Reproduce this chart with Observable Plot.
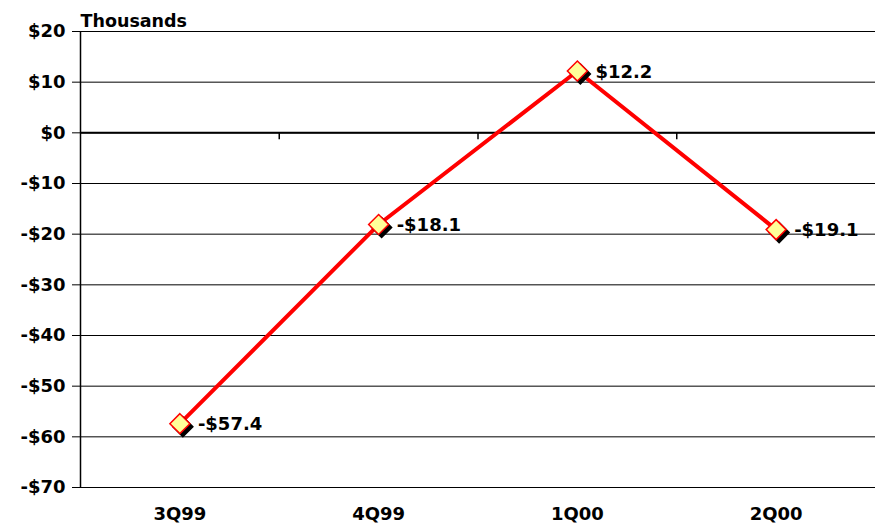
<!DOCTYPE html>
<html>
<head>
<meta charset="utf-8">
<script src="https://cdn.jsdelivr.net/npm/d3@7"></script>
<script src="https://cdn.jsdelivr.net/npm/@observablehq/plot@0.6"></script>
<style>
  html, body { margin: 0; padding: 0; background: #fff; }
  #chart svg { display: block; }
  #chart svg [aria-label="y-axis tick label"],
  #chart svg [aria-label="x-axis tick label"] { font-size: 18px; font-weight: bold; }
</style>
</head>
<body>
<div id="chart"></div>
<script>
const quarters = ["3Q99", "4Q99", "1Q00", "2Q00"];
const values = [-57.4, -18.1, 12.2, -19.1];
const yTicks = [20, 10, 0, -10, -20, -30, -40, -50, -60, -70];
const yTickLabels = ["$20", "$10", "$0", "-$10", "-$20", "-$30", "-$40", "-$50", "-$60", "-$70"];
const unitLabel = "Thousands";

const data = quarters.map((q, i) => ({i, q, v: values[i]}));
const boundaries = quarters.slice(1).map((_, i) => i + 0.5);
const fmt = v => (v < 0 ? "-$" : "$") + Math.abs(v).toFixed(1);
const font = "DejaVu Sans, Verdana, sans-serif";

const chart = Plot.plot({
  width: 879,
  height: 530,
  marginLeft: 80,
  marginRight: 4,
  marginTop: 31,
  marginBottom: 43,
  style: {fontFamily: font, fontSize: "17px", fontWeight: "bold", color: "#000", background: "#fff"},
  x: {type: "linear", domain: [-0.5, quarters.length - 0.5]},
  y: {domain: [-70, 20]},
  marks: [
    Plot.ruleY(yTicks, {stroke: "#000", strokeWidth: 1}),
    Plot.ruleY([0], {stroke: "#000", strokeWidth: 2}),
    Plot.ruleX([-0.5], {stroke: "#000", strokeWidth: 1.5}),
    Plot.ruleX(boundaries, {y1: 0, y2: 0, insetBottom: -7, stroke: "#000", strokeWidth: 1.5}),
    Plot.axisY({ticks: yTicks, tickFormat: d => yTickLabels[yTicks.indexOf(d)], tickSize: 8, tickPadding: 7, label: null}),
    Plot.axisX({ticks: d3.range(quarters.length), tickFormat: i => quarters[i], tickSize: 0, tickPadding: 20, label: null}),
    Plot.text([unitLabel], {frameAnchor: "top-left", textAnchor: "start", dy: -17, fontSize: 17.5, fontWeight: "bold"}),
    Plot.line(data, {x: "i", y: "v", stroke: "#ff0000", strokeWidth: 4}),
    Plot.dot(data, {x: "i", y: "v", symbol: "diamond2", r: 9, fill: "#000", stroke: "#000", dx: 3, dy: 3}),
    Plot.dot(data, {x: "i", y: "v", symbol: "diamond2", r: 9, fill: "#ffff99", stroke: "#ff0000", strokeWidth: 1.5}),
    Plot.text(data, {x: "i", y: "v", text: d => fmt(d.v), textAnchor: "start", dx: 18, dy: 1, fontSize: 18, fontWeight: "bold"})
  ]
});
document.getElementById("chart").appendChild(chart);
</script>
</body>
</html>
